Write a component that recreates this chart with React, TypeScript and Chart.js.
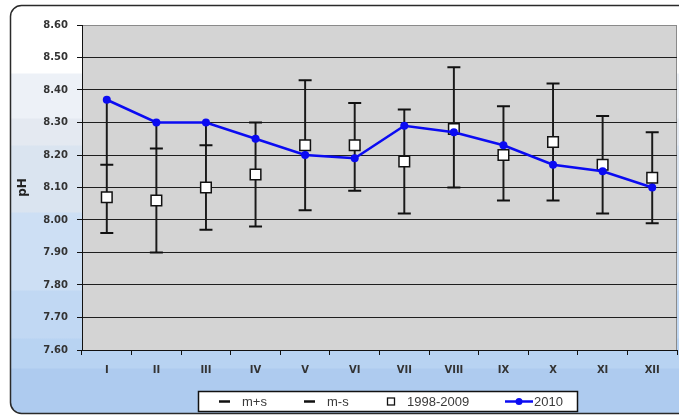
import React, { useEffect, useRef } from 'react';
import { Chart, registerables } from 'chart.js';

Chart.register(...registerables);

// ---- data ----
const months = ['I', 'II', 'III', 'IV', 'V', 'VI', 'VII', 'VIII', 'IX', 'X', 'XI', 'XII'];
const seriesMPlusS = [8.17, 8.22, 8.23, 8.30, 8.43, 8.36, 8.34, 8.47, 8.35, 8.42, 8.32, 8.27];
const seriesMMinusS = [7.96, 7.90, 7.97, 7.98, 8.03, 8.09, 8.02, 8.10, 8.06, 8.06, 8.02, 7.99];
const series19982009 = [8.07, 8.06, 8.10, 8.14, 8.23, 8.23, 8.18, 8.28, 8.20, 8.24, 8.17, 8.13];
const series2010 = [8.37, 8.30, 8.30, 8.25, 8.20, 8.19, 8.29, 8.27, 8.23, 8.17, 8.15, 8.10];
const yMin = 7.6;
const yMax = 8.6;
const yStep = 0.1;
const yTitle = 'pH';
const legendLabels = ['m+s', 'm-s', '1998-2009', '2010'];

// high-low lines span all series in each month
const highLow = months.map((_, i) => {
  const vals = [seriesMPlusS[i], seriesMMinusS[i], series19982009[i], series2010[i]];
  return [Math.min(...vals), Math.max(...vals)];
});

const BLUE = '#0b0bf2';
const TICK_FONT = { family: 'DejaVu Sans', size: 10, weight: 'bold' as const };

const backgroundPlugin = {
  id: 'customBackground',
  beforeDraw(chart: any) {
    const ctx = chart.ctx;
    const { width, height } = chart;
    ctx.save();
    ctx.fillStyle = '#ffffff';
    ctx.fillRect(0, 0, width, height);
    const grad = ctx.createLinearGradient(0, 0, 0, height);
    const bands: [number, string][] = [
      [0, '#ffffff'], [73, '#ffffff'],
      [74, '#edf1f7'], [118, '#edf1f7'],
      [119, '#e4e9f1'], [145, '#e4e9f1'],
      [146, '#dae4f0'], [212, '#dae4f0'],
      [213, '#cddff4'], [290, '#cddff4'],
      [291, '#c1d8f3'], [338, '#c1d8f3'],
      [339, '#b8d3f2'], [368, '#b8d3f2'],
      [369, '#aecbef'], [417, '#aecbef'],
    ];
    bands.forEach(([y, c]) => grad.addColorStop(Math.min(1, y / height), c));
    ctx.beginPath();
    ctx.roundRect(10.5, 5.5, width + 20, 408, 11);
    ctx.fillStyle = grad;
    ctx.fill();
    ctx.lineWidth = 1.5;
    ctx.strokeStyle = '#2a2a2a';
    ctx.stroke();
    const a = chart.chartArea;
    ctx.fillStyle = '#d4d4d4';
    ctx.fillRect(a.left, a.top, a.right - a.left, a.bottom - a.top);
    ctx.strokeStyle = '#8a8a8a';
    ctx.lineWidth = 1;
    ctx.beginPath();
    ctx.moveTo(a.left, a.top + 0.5);
    ctx.lineTo(a.right - 0.5, a.top + 0.5);
    ctx.lineTo(a.right - 0.5, a.bottom);
    ctx.stroke();
    ctx.restore();
  },
};

const legendPlugin = {
  id: 'customLegend',
  afterDraw(chart: any) {
    const ctx = chart.ctx;
    ctx.save();
    const bx = 198.5, by = 391.5, bw = 379, bh = 20;
    const cy = by + bh / 2;
    ctx.fillStyle = '#ffffff';
    ctx.fillRect(bx, by, bw, bh);
    ctx.strokeStyle = '#111';
    ctx.lineWidth = 1.5;
    ctx.strokeRect(bx, by, bw, bh);
    ctx.font = '13px "Liberation Sans", Arial, sans-serif';
    ctx.fillStyle = '#3a3a3a';
    ctx.textBaseline = 'middle';
    ctx.textAlign = 'left';
    // m+s
    ctx.strokeStyle = '#111';
    ctx.lineWidth = 2.5;
    ctx.beginPath(); ctx.moveTo(219, cy); ctx.lineTo(230, cy); ctx.stroke();
    ctx.fillText(legendLabels[0], 242, cy + 0.5);
    // m-s
    ctx.beginPath(); ctx.moveTo(304, cy); ctx.lineTo(315, cy); ctx.stroke();
    ctx.fillText(legendLabels[1], 327, cy + 0.5);
    // square
    ctx.lineWidth = 1.3;
    ctx.fillStyle = '#fff';
    ctx.fillRect(387.5, cy - 3.5, 7, 7);
    ctx.strokeRect(387.5, cy - 3.5, 7, 7);
    ctx.fillStyle = '#3a3a3a';
    ctx.fillText(legendLabels[2], 407, cy + 0.5);
    // 2010
    ctx.strokeStyle = BLUE;
    ctx.lineWidth = 2.5;
    ctx.beginPath(); ctx.moveTo(505, cy); ctx.lineTo(533, cy); ctx.stroke();
    ctx.fillStyle = BLUE;
    ctx.beginPath(); ctx.arc(519, cy, 3.5, 0, Math.PI * 2); ctx.fill();
    ctx.fillStyle = '#3a3a3a';
    ctx.fillText(legendLabels[3], 534, cy + 0.5);
    ctx.restore();
  },
};

export default function App() {
  const canvasRef = useRef<HTMLCanvasElement | null>(null);

  useEffect(() => {
    if (!canvasRef.current) return;
    const chart = new Chart(canvasRef.current, {
      type: 'line',
      data: {
        labels: months,
        datasets: [
          {
            type: 'line',
            label: legendLabels[3],
            data: series2010,
            borderColor: BLUE,
            backgroundColor: BLUE,
            borderWidth: 2.5,
            pointRadius: 4,
            pointStyle: 'circle',
            pointBackgroundColor: BLUE,
            pointBorderColor: BLUE,
            pointBorderWidth: 0,
            order: 0,
          },
          {
            type: 'line',
            label: legendLabels[2],
            data: series19982009,
            showLine: false,
            pointStyle: 'rect',
            pointRadius: 7.5,
            pointBackgroundColor: '#ffffff',
            pointBorderColor: '#111',
            pointBorderWidth: 1.5,
            order: 1,
          },
          {
            type: 'line',
            label: legendLabels[0],
            data: seriesMPlusS,
            showLine: false,
            pointStyle: 'line',
            pointRadius: 6.5,
            pointBorderColor: '#111',
            pointBorderWidth: 2,
            order: 2,
          },
          {
            type: 'line',
            label: legendLabels[1],
            data: seriesMMinusS,
            showLine: false,
            pointStyle: 'line',
            pointRadius: 6.5,
            pointBorderColor: '#111',
            pointBorderWidth: 2,
            order: 3,
          },
          {
            type: 'bar',
            label: 'high-low',
            data: highLow as any,
            backgroundColor: '#1a1a1a',
            borderWidth: 0,
            barThickness: 1.3,
            order: 4,
          } as any,
        ],
      },
      options: {
        responsive: false,
        animation: false,
        events: [],
        layout: { autoPadding: false, padding: { top: 25, right: 2, left: 0, bottom: 0 } },
        plugins: {
          legend: { display: false },
          tooltip: { enabled: false },
        },
        scales: {
          x: {
            offset: true,
            grid: {
              offset: true,
              drawOnChartArea: false,
              drawTicks: true,
              tickLength: 5,
              tickColor: '#111',
              color: '#111',
            },
            border: { color: '#111', width: 1 },
            ticks: {
              font: TICK_FONT,
              color: '#333',
              padding: 9,
              maxRotation: 0,
              autoSkip: false,
            },
            afterFit: (s: any) => {
              s.height = 67;
              s.paddingLeft = 0;
              s.paddingRight = 0;
            },
          },
          y: {
            min: yMin,
            max: yMax,
            ticks: {
              stepSize: yStep,
              font: TICK_FONT,
              color: '#333',
              padding: 9,
              callback: (v: any) => Number(v).toFixed(2),
            },
            grid: {
              color: (c: any) => (c.tick && c.tick.value > yMax - 0.01 ? '#8a8a8a' : '#1e1e1e'),
              tickColor: '#111',
              tickLength: 5,
              lineWidth: 1,
            },
            border: { color: '#111', width: 1 },
            title: {
              display: true,
              text: yTitle,
              font: { family: 'DejaVu Sans', size: 12, weight: 'bold' },
              color: '#222',
              padding: { top: 16, bottom: 0 },
            },
            afterFit: (s: any) => {
              s.width = 82;
              s.paddingTop = 0;
              s.paddingBottom = 0;
            },
          },
        },
      },
      plugins: [backgroundPlugin, legendPlugin],
    });
    return () => chart.destroy();
  }, []);

  return (
    <div style={{ position: 'fixed', left: 0, top: 0, width: 679, height: 417 }}>
      <canvas ref={canvasRef} width={679} height={417} style={{ display: 'block' }} />
    </div>
  );
}
